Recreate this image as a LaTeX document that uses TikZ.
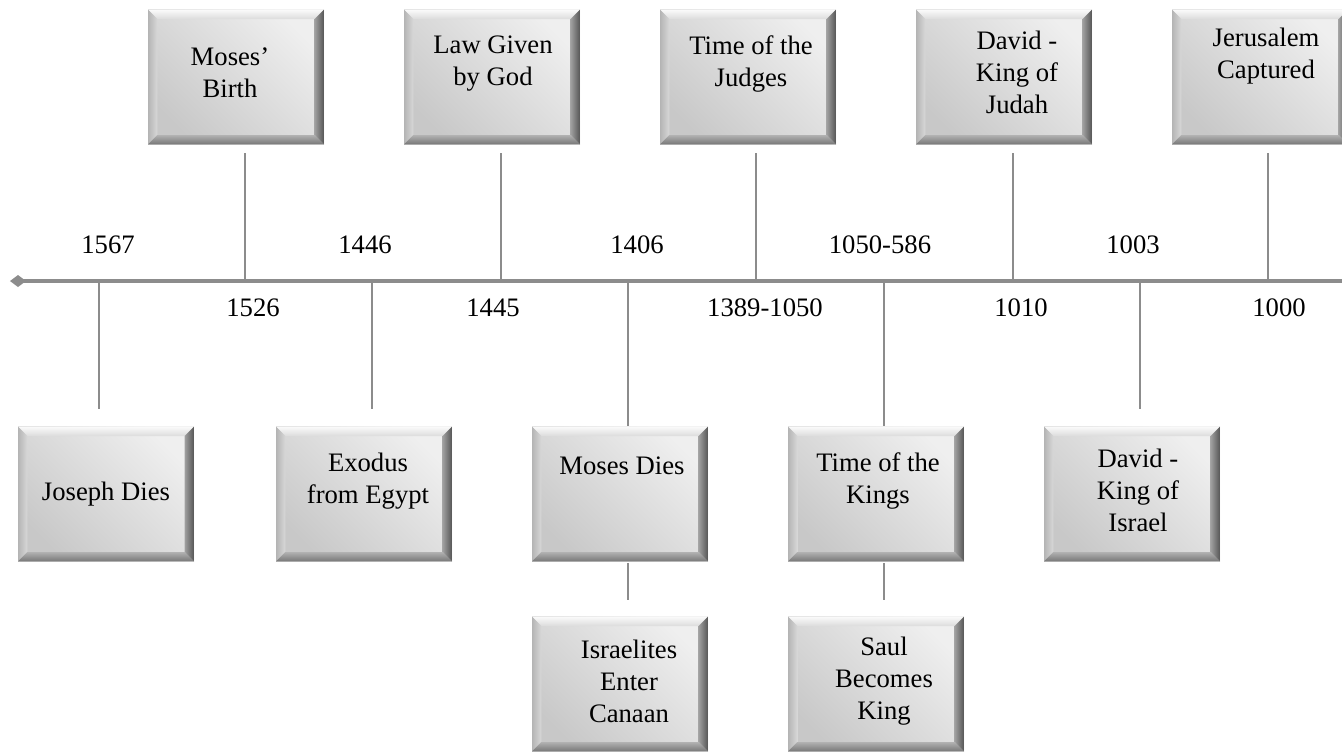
\documentclass[tikz,border=0pt]{standalone}
\usepackage{fontspec}
\setmainfont{Liberation Serif}
\usetikzlibrary{arrows.meta,calc}
\definecolor{lineg}{HTML}{8C8C8C}
\definecolor{bevtopa}{HTML}{FAFAFA}
\definecolor{bevtopb}{HTML}{DCDCDC}
\definecolor{bevlefta}{HTML}{B4B4B4}
\definecolor{bevleftb}{HTML}{D8D8D8}
\definecolor{bevrighta}{HTML}{A0A0A0}
\definecolor{bevrightb}{HTML}{555555}
\definecolor{bevbota}{HTML}{B2B2B2}
\definecolor{bevbotb}{HTML}{777777}
\definecolor{facedark}{HTML}{C8C8C8}
\definecolor{facemid}{HTML}{DCDCDC}
\definecolor{facelight}{HTML}{EFEFEF}

\begin{document}
\begin{tikzpicture}[x=0.75pt, y=-0.75pt,
    evbox/.style={minimum width=132pt, minimum height=101pt, inner sep=0pt,
      path picture={
        \coordinate (bnw) at (path picture bounding box.north west);
        \coordinate (bne) at (path picture bounding box.north east);
        \coordinate (bse) at (path picture bounding box.south east);
        \coordinate (bsw) at (path picture bounding box.south west);
        \shade[left color=facedark, middle color=facemid, right color=facelight, shading angle=135]
          (bnw) rectangle (bse);
        \shade[top color=bevtopa, bottom color=bevtopb]
          (bnw) -- (bne) -- ([shift={(-7pt,-7pt)}]bne) -- ([shift={(7pt,-7pt)}]bnw) -- cycle;
        \shade[left color=bevlefta, right color=bevleftb]
          (bnw) -- (bsw) -- ([shift={(7pt,7pt)}]bsw) -- ([shift={(7pt,-7pt)}]bnw) -- cycle;
        \shade[left color=bevrighta, right color=bevrightb]
          (bne) -- (bse) -- ([shift={(-7pt,7pt)}]bse) -- ([shift={(-7pt,-7pt)}]bne) -- cycle;
        \shade[top color=bevbota, bottom color=bevbotb]
          (bsw) -- (bse) -- ([shift={(-7pt,7pt)}]bse) -- ([shift={(7pt,7pt)}]bsw) -- cycle;
      }},
    evtxt/.style={align=center, inner sep=0pt, text=black,
                  font=\fontsize{20pt}{24pt}\selectfont},
    yr/.style={inner sep=0pt, font=\fontsize{20pt}{24pt}\selectfont},
    link/.style={draw=lineg, line width=1.5pt},
    tline/.style={draw=lineg, line width=3pt, {Diamond[length=12pt,width=9pt]}-}
  ]
    \useasboundingbox (0,0) rectangle (1342,751);

    % points on the time line
    \coordinate (tstart) at (10,281);
    \coordinate (tend)   at (1342,281);
    \coordinate (c-joseph) at (99,281);
    \coordinate (c-birth)  at (245,281);
    \coordinate (c-exodus) at (372,281);
    \coordinate (c-law)    at (501,281);
    \coordinate (c-mdies)  at (628,281);
    \coordinate (c-judges) at (756,281);
    \coordinate (c-kings)  at (884,281);
    \coordinate (c-judah)  at (1013,281);
    \coordinate (c-israel) at (1140,281);
    \coordinate (c-jeru)   at (1268,281);

    % boxes
    \node[evbox] (birth)  at (236,77) {};
    \node[evbox] (law)    at (492,77) {};
    \node[evbox] (judges) at (748,77) {};
    \node[evbox] (judah)  at (1004,77) {};
    \node[evbox] (jeru)   at (1260,77) {};
    \node[evbox] (joseph) at (106,494) {};
    \node[evbox] (exodus) at (364,494) {};
    \node[evbox] (mdies)  at (620,494) {};
    \node[evbox] (kings)  at (876,494) {};
    \node[evbox] (israel) at (1132,494) {};
    \node[evbox] (canaan) at (620,684) {};
    \node[evbox] (saul)   at (876,684) {};

    % box texts
    \node[evtxt] (birth-t)  at (230,73)  {Moses'\\Birth};
    \node[evtxt] (law-t)    at (493,64)  {Law Given\\by God};
    \node[evtxt] (judges-t) at (751,64)  {Time of the\\Judges};
    \node[evtxt] (judah-t)  at (1017,72) {David -\\King of\\Judah};
    \node[evtxt] (jeru-t)   at (1266,56) {Jerusalem\\Captured};
    \node[evtxt] (joseph-t) at (106,494) {Joseph Dies};
    \node[evtxt] (exodus-t) at (368,481) {Exodus\\from Egypt};
    \node[evtxt] (mdies-t)  at (622,466) {Moses Dies};
    \node[evtxt] (kings-t)  at (878,481) {Time of the\\Kings};
    \node[evtxt] (israel-t) at (1138,490) {David -\\King of\\Israel};
    \node[evtxt] (canaan-t) at (629,681) {Israelites\\Enter\\Canaan};
    \node[evtxt] (saul-t)   at (884,681) {Saul\\Becomes\\King};

    % years
    \node[yr] (y1567) at (108,245)  {1567};
    \node[yr] (y1446) at (365,245)  {1446};
    \node[yr] (y1406) at (637,245)  {1406};
    \node[yr] (y1050) at (880,245)  {1050-586};
    \node[yr] (y1003) at (1133,245) {1003};
    \node[yr] (y1526) at (253,308)  {1526};
    \node[yr] (y1445) at (493,308)  {1445};
    \node[yr] (y1389) at (765,308)  {1389-1050};
    \node[yr] (y1010) at (1021,308) {1010};
    \node[yr] (y1000) at (1279,308) {1000};

    % connectors
    \draw[link] (c-birth)  -- ($(c-birth |- birth.south)+(0,-6pt)$);
    \draw[link] (c-law)    -- ($(c-law |- law.south)+(0,-6pt)$);
    \draw[link] (c-judges) -- ($(c-judges |- judges.south)+(0,-6pt)$);
    \draw[link] (c-judah)  -- ($(c-judah |- judah.south)+(0,-6pt)$);
    \draw[link] (c-jeru)   -- ($(c-jeru |- jeru.south)+(0,-6pt)$);
    \draw[link] (c-joseph) -- ($(c-joseph |- joseph.north)+(0,13pt)$);
    \draw[link] (c-exodus) -- ($(c-exodus |- exodus.north)+(0,13pt)$);
    \draw[link] (c-mdies)  -- (c-mdies |- mdies.north);
    \draw[link] (c-kings)  -- (c-kings |- kings.north);
    \draw[link] (c-israel) -- ($(c-israel |- israel.north)+(0,13pt)$);
    \draw[link] ($(c-mdies |- mdies.south)+(0,-1pt)$) -- ($(c-mdies |- canaan.north)+(0,12pt)$);
    \draw[link] ($(c-kings |- kings.south)+(0,-1pt)$) -- ($(c-kings |- saul.north)+(0,12pt)$);

    \draw[tline] (tstart) -- (tend);
  \end{tikzpicture}
\end{document}
